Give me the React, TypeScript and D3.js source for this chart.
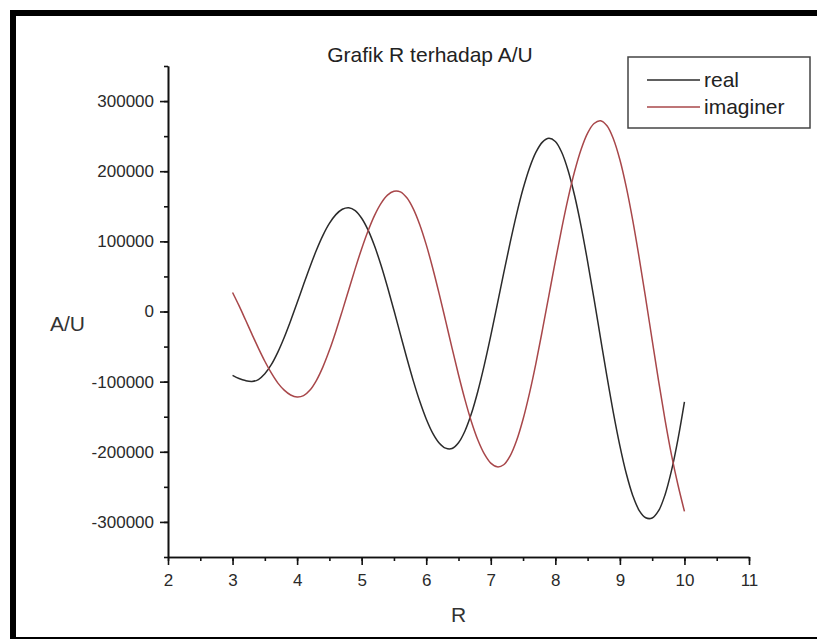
import React, { useRef, useEffect } from "react";
import * as d3 from "d3";

// R values (x axis)
const rValues = [
  3.0, 3.1, 3.2, 3.3, 3.4, 3.5, 3.6, 3.7, 3.8, 3.9,
  4.0, 4.1, 4.2, 4.3, 4.4, 4.5, 4.6, 4.7, 4.8, 4.9,
  5.0, 5.1, 5.2, 5.3, 5.4, 5.5, 5.6, 5.7, 5.8, 5.9,
  6.0, 6.1, 6.2, 6.3, 6.4, 6.5, 6.6, 6.7, 6.8, 6.9,
  7.0, 7.1, 7.2, 7.3, 7.4, 7.5, 7.6, 7.7, 7.8, 7.9,
  8.0, 8.1, 8.2, 8.3, 8.4, 8.5, 8.6, 8.7, 8.8, 8.9,
  9.0, 9.1, 9.2, 9.3, 9.4, 9.5, 9.6, 9.7, 9.8, 9.9,
  10.0,
];

// A/U, real part
const realValues = [
  -91000, -95500, -98500, -99700, -97000, -88800, -75800, -58200, -37000, -13100,
  12400, 38500, 63900, 87600, 108500, 125500, 138100, 145800, 148000, 143900,
  133000, 116000, 93300, 65900, 34900, 1700, -32600, -66600, -98900, -128100,
  -153200, -173300, -187300, -194800, -195300, -187100, -170300, -145500, -113600, -76100,
  -34400, 9800, 54600, 98200, 138900, 174900, 204700, 227200, 241500, 247000,
  242400, 226700, 200400, 164600, 121100, 71200, 17600, -37900, -92800, -144800,
  -191500, -231400, -262600, -283800, -294100, -294400, -284000, -261100, -226600, -181800,
  -128700,
];

// A/U, imaginary part
const imagValues = [
  27100, 8300, -11800, -32200, -52200, -70900, -87600, -101700, -112100, -119000,
  -121900, -120000, -112000, -98100, -78900, -55400, -28400, 900, 31100, 61100,
  89600, 115200, 137100, 154200, 165900, 171500, 170600, 162100, 146300, 123700,
  95300, 62100, 25500, -13100, -52200, -90100, -125600, -157100, -183200, -203000,
  -216100, -221500, -218500, -205900, -184000, -153700, -116400, -73500, -26300, 22700,
  71800, 119000, 162400, 200300, 231400, 254400, 268000, 272000, 264800, 246000,
  216400, 177000, 129600, 75900, 18500, -40800, -99400, -154800, -204800, -247400,
  -285000,
];

const xTicks = [2, 3, 4, 5, 6, 7, 8, 9, 10, 11];
const yTicks = [-300000, -200000, -100000, 0, 100000, 200000, 300000];
const seriesNames = ["real", "imaginer"];
const seriesColors = ["#2b2b2b", "#a8474a"];

const App = () => {
  const svgRef = useRef(null);

  useEffect(() => {
    const width = 817;
    const height = 639;
    const font = "'Liberation Sans', Arial, sans-serif";

    const svg = d3.select(svgRef.current)
      .attr("width", width)
      .attr("height", height);
    svg.selectAll("*").remove();

    // white page + black frame (right side runs off the picture)
    svg.append("rect")
      .attr("x", 13).attr("y", 13)
      .attr("width", width + 20).attr("height", 627)
      .attr("fill", "#fff")
      .attr("stroke", "#000")
      .attr("stroke-width", 6);

    const x = d3.scaleLinear().domain([2, 11]).range([168, 749]);
    const y = d3.scaleLinear().domain([-350000, 350000]).range([557, 66]);

    const styleAxis = (g) => {
      g.select(".domain").attr("stroke", "#111").attr("stroke-width", 1.6);
      g.selectAll(".tick line").attr("stroke", "#111").attr("stroke-width", 1.6);
      g.selectAll("text")
        .attr("fill", "#2a2a2a")
        .attr("font-size", 17)
        .attr("font-family", font);
    };

    // minor ticks
    svg.append("g")
      .attr("transform", `translate(${x(2)},0)`)
      .call(d3.axisLeft(y).tickValues(d3.range(-350000, 350001, 50000)).tickSize(4).tickSizeOuter(0).tickFormat(() => ""))
      .call(styleAxis);
    svg.append("g")
      .attr("transform", `translate(0,${y(-350000)})`)
      .call(d3.axisBottom(x).tickValues(d3.range(2, 11.01, 0.5)).tickSize(4).tickSizeOuter(0).tickFormat(() => ""))
      .call(styleAxis);

    // major ticks
    svg.append("g")
      .attr("transform", `translate(${x(2)},0)`)
      .call(d3.axisLeft(y).tickValues(yTicks).tickSize(8).tickPadding(6).tickSizeOuter(0).tickFormat(d => String(d)))
      .call(styleAxis);
    svg.append("g")
      .attr("transform", `translate(0,${y(-350000)})`)
      .call(d3.axisBottom(x).tickValues(xTicks).tickSize(8).tickPadding(9).tickSizeOuter(0).tickFormat(d => String(d)))
      .call(styleAxis);

    const line = (vals) => d3.line()
      .x((d, i) => x(rValues[i]))
      .y(d => y(d))
      .curve(d3.curveCatmullRom.alpha(0.5))(vals);

    [realValues, imagValues].forEach((vals, i) => {
      svg.append("path")
        .attr("d", line(vals))
        .attr("fill", "none")
        .attr("stroke", seriesColors[i])
        .attr("stroke-width", 1.5);
    });

    // title and axis labels
    svg.append("text")
      .attr("x", 430).attr("y", 62)
      .attr("text-anchor", "middle")
      .attr("font-size", 21)
      .attr("font-family", font)
      .attr("fill", "#222")
      .text("Grafik R terhadap A/U");

    svg.append("text")
      .attr("x", 50).attr("y", 331)
      .attr("font-size", 21)
      .attr("font-family", font)
      .attr("fill", "#333")
      .text("A/U");

    svg.append("text")
      .attr("x", (x(2) + x(11)) / 2).attr("y", 622)
      .attr("text-anchor", "middle")
      .attr("font-size", 21)
      .attr("font-family", font)
      .attr("fill", "#333")
      .text("R");

    // legend
    const legend = svg.append("g");
    legend.append("rect")
      .attr("x", 628).attr("y", 57)
      .attr("width", 182).attr("height", 71)
      .attr("fill", "none")
      .attr("stroke", "#444")
      .attr("stroke-width", 1.5);

    seriesNames.forEach((name, i) => {
      const ly = 80 + i * 27;
      legend.append("line")
        .attr("x1", 647).attr("x2", 700)
        .attr("y1", ly).attr("y2", ly)
        .attr("stroke", seriesColors[i])
        .attr("stroke-width", 1.5);
      legend.append("text")
        .attr("x", 704).attr("y", ly + 7)
        .attr("font-size", 21)
        .attr("font-family", font)
        .attr("fill", "#222")
        .text(name);
    });
  }, []);

  return <svg ref={svgRef} style={{ position: "absolute", left: 0, top: 0 }}></svg>;
};

export default App;
